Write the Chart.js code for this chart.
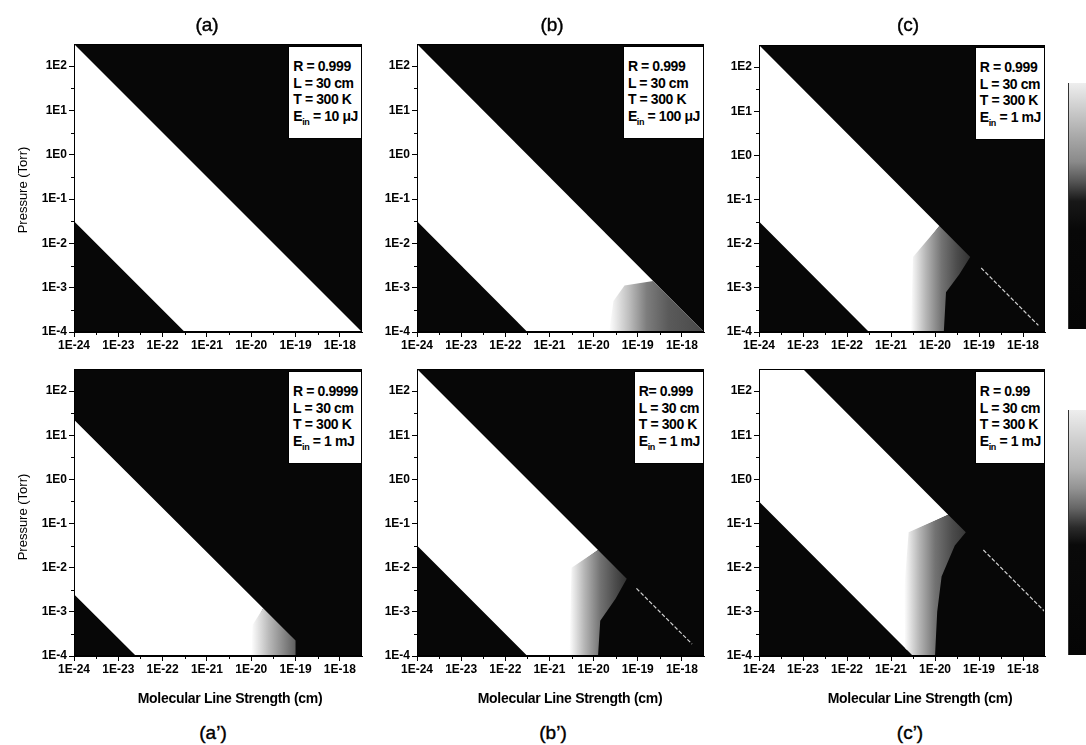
<!DOCTYPE html>
<html>
<head>
<meta charset="utf-8">
<script src="https://cdn.jsdelivr.net/npm/chart.js@4.4.0/dist/chart.umd.min.js"></script>
<style>
  body { margin: 0; background: #fff; }
  #page { position: relative; width: 1086px; height: 745px; overflow: hidden;
          font-family: "Liberation Sans", Arial, sans-serif; color: #000; }
  canvas { position: absolute; }
  .title { position: absolute; font-size: 19px; transform: translate(-50%, -50%); white-space: nowrap;
           -webkit-text-stroke: 0.4px #000; }
  .xlab { position: absolute; font-size: 14px; font-weight: bold; transform: translate(-50%, -50%);
          white-space: nowrap; letter-spacing: -0.3px; }
  .ylab { position: absolute; font-size: 13px; transform: translate(-50%, -50%) rotate(-90deg); white-space: nowrap; }
  .box { position: absolute; background: #fff; border: 1px solid #000; font-size: 14px; font-weight: bold;
         line-height: 16.5px; padding: 11px 3px 14px 4px; white-space: nowrap; letter-spacing: -0.4px; }
  .box sub { font-size: 9px; vertical-align: -4px; line-height: 0; }
  .cbar { position: absolute; width: 30px; border-left: 1px solid #333; }
</style>
</head>
<body>
<div id="page"></div>
<script>
// axis decades (log10) and labels
var xTickExp = [-24, -23, -22, -21, -20, -19, -18];
var xTickLabels = ['1E-24', '1E-23', '1E-22', '1E-21', '1E-20', '1E-19', '1E-18'];
var xMinorExp = [-23.5, -22.5, -21.5, -20.5, -19.5, -18.5];
var yTickExp = [-4, -3, -2, -1, 0, 1, 2];
var yTickLabels = ['1E-4', '1E-3', '1E-2', '1E-1', '1E0', '1E1', '1E2'];
var yMinorExp = [-3.5, -2.5, -1.5, -0.5, 0.5, 1.5];
var xRange = [-24, -17.5];
var yRange = [-4, 2.5];

// all region vertices are log10(line strength), log10(pressure)
// (a)
var aBandS = [-24, -17.5, -21.5, -24];
var aBandP = [2.5, -4, -4, -1.5];
// (b)
var bBandS = [-24, -17.5, -21.5, -24];
var bBandP = [2.5, -4, -4, -1.5];
var bGrayS = [-19.65, -19.55, -19.3, -18.65, -17.5];
var bGrayP = [-4, -3.3, -2.95, -2.85, -4];
var bStopS = [-19.65, -19.2, -18.8, -18.3, -17.6];
var bStopV = [255, 190, 125, 90, 75];
// (c)
var cBandS = [-24, -19.9, -20.45, -20.5, -21.5, -24];
var cBandP = [2.5, -1.6, -2.3, -4, -4, -1.5];
var cGrayS = [-20.55, -20.5, -19.9, -19.2, -19.45, -19.75, -19.8];
var cGrayP = [-4, -2.3, -1.6, -2.3, -2.7, -3.1, -4];
var cStopS = [-20.55, -20.2, -19.85, -19.5, -19.2];
var cStopV = [255, 180, 115, 75, 50];
var cLineS = [-18.95, -17.65];
var cLineP = [-2.55, -3.85];
// (a')
var a2BandS = [-24, -19.73, -19.92, -19.95, -22.6, -24];
var a2BandP = [1.35, -2.92, -3.3, -4, -4, -2.6];
var a2GrayS = [-20.0, -19.97, -19.73, -19.25, -19.0, -19.0];
var a2GrayP = [-4, -3.3, -2.92, -3.4, -3.65, -4];
var a2StopS = [-20.0, -19.6, -19.2, -19.0];
var a2StopV = [255, 185, 125, 95];
// (b')
var b2BandS = [-24, -19.9, -20.45, -20.5, -21.5, -24];
var b2BandP = [2.5, -1.6, -2.0, -4, -4, -1.5];
var b2GrayS = [-20.55, -20.5, -19.9, -19.25, -19.5, -19.85, -19.9];
var b2GrayP = [-4, -2.0, -1.6, -2.25, -2.7, -3.2, -4];
var b2StopS = [-20.55, -20.2, -19.85, -19.5, -19.25];
var b2StopV = [255, 180, 115, 75, 50];
var b2LineS = [-19.03, -17.77];
var b2LineP = [-2.47, -3.73];
// (c')
var c2BandS = [-24, -23, -19.7, -20.55, -20.65, -20.63, -24];
var c2BandP = [2.5, 2.5, -0.8, -1.2, -2.5, -3.87, -0.5];
var c2GrayS = [-20.6, -19.7, -19.3, -19.55, -19.85, -19.95, -20.0, -20.5, -20.68, -20.7];
var c2GrayP = [-1.2, -0.8, -1.2, -1.5, -2.2, -3.0, -4, -4, -3.82, -2.5];
var c2StopS = [-20.7, -20.35, -20.0, -19.6, -19.3];
var c2StopV = [255, 180, 115, 75, 55];
var c2LineS = [-18.9, -17.5];
var c2LineP = [-1.6, -3.0];

var page = document.getElementById('page');
var PADL = 56, PADT = 12, PADR = 8, PADB = 26;
var FONT = 'Liberation Sans, Arial, sans-serif';

function pts(sArr, pArr) {
  return sArr.map(function(s, i) { return {x: Math.pow(10, s), y: Math.pow(10, pArr[i])}; });
}

function grayFill(stopS, stopV) {
  return function(ctx) {
    var chart = ctx.chart;
    if (!chart.chartArea) return 'rgb(160,160,160)';
    var xs = chart.scales.x;
    var x0 = xs.getPixelForValue(Math.pow(10, stopS[0]));
    var x1 = xs.getPixelForValue(Math.pow(10, stopS[stopS.length - 1]));
    var g = chart.ctx.createLinearGradient(x0, 0, x1, 0);
    stopS.forEach(function(s, i) {
      var t = (xs.getPixelForValue(Math.pow(10, s)) - x0) / (x1 - x0);
      var v = stopV[i];
      g.addColorStop(Math.min(1, Math.max(0, t)), 'rgb(' + v + ',' + v + ',' + v + ')');
    });
    return g;
  };
}

var framePlugin = {
  id: 'frame',
  beforeDraw: function(chart) {
    var a = chart.chartArea, c = chart.ctx;
    c.save();
    c.fillStyle = '#070707';
    c.fillRect(a.left, a.top, a.right - a.left, a.bottom - a.top);
    c.restore();
  },
  afterDraw: function(chart) {
    var a = chart.chartArea, c = chart.ctx;
    var xs = chart.scales.x, ys = chart.scales.y;
    c.save();
    c.strokeStyle = '#000';
    c.lineWidth = 1;
    c.strokeRect(a.left + 0.5, a.top + 0.5, a.right - a.left - 1, a.bottom - a.top - 1);
    c.beginPath();
    xMinorExp.forEach(function(e) {
      var px = Math.round(xs.getPixelForValue(Math.pow(10, e))) + 0.5;
      c.moveTo(px, a.bottom); c.lineTo(px, a.bottom + 3);
    });
    yMinorExp.forEach(function(e) {
      var py = Math.round(ys.getPixelForValue(Math.pow(10, e))) + 0.5;
      c.moveTo(a.left, py); c.lineTo(a.left - 3, py);
    });
    c.stroke();
    c.restore();
  }
};

function region(data, color) {
  return {data: data, showLine: true, fill: 'shape', backgroundColor: color,
          borderWidth: 0, borderColor: 'rgba(0,0,0,0)', pointRadius: 0, tension: 0};
}

function makePanel(p) {
  var cv = document.createElement('canvas');
  cv.width = PADL + p.w + PADR;
  cv.height = PADT + p.h + PADB;
  cv.style.left = (p.left - PADL) + 'px';
  cv.style.top = (p.top - PADT) + 'px';
  page.appendChild(cv);

  // Chart.js paints the first dataset on top, so list top-most first
  var ds = [];
  if (p.line) ds.push({data: pts(p.line[0], p.line[1]), showLine: true, fill: false,
                       borderColor: '#d0d0d0', borderWidth: 1.2, borderDash: [4, 2],
                       pointRadius: 0});
  if (p.gray) ds.push(region(pts(p.gray[0], p.gray[1]), grayFill(p.gray[2], p.gray[3])));
  ds.push(region(pts(p.band[0], p.band[1]), '#ffffff'));

  new Chart(cv, {
    type: 'scatter',
    data: {datasets: ds},
    options: {
      responsive: false, animation: false, events: [],
      layout: {padding: {top: PADT, right: PADR, left: 0, bottom: 0}},
      plugins: {legend: {display: false}, tooltip: {enabled: false}},
      scales: {
        x: {
          type: 'logarithmic', position: 'bottom',
          min: Math.pow(10, xRange[0]), max: Math.pow(10, xRange[1]),
          afterBuildTicks: function(s) {
            s.ticks = xTickExp.map(function(e) { return {value: Math.pow(10, e)}; });
          },
          afterFit: function(s) { s.height = PADB; },
          grid: {drawOnChartArea: false, tickLength: 5, color: '#000', tickColor: '#000'},
          border: {color: '#000', width: 1},
          ticks: {
            autoSkip: false, maxRotation: 0, padding: 1, color: '#000',
            font: {family: FONT, size: 12, weight: 'bold'},
            callback: function(v) {
              return xTickLabels[xTickExp.indexOf(Math.round(Math.log10(v)))];
            }
          }
        },
        y: {
          type: 'logarithmic', position: 'left',
          min: Math.pow(10, yRange[0]), max: Math.pow(10, yRange[1]),
          afterBuildTicks: function(s) {
            s.ticks = yTickExp.map(function(e) { return {value: Math.pow(10, e)}; });
          },
          afterFit: function(s) { s.width = PADL; },
          grid: {drawOnChartArea: false, tickLength: 5, color: '#000', tickColor: '#000'},
          border: {color: '#000', width: 1},
          ticks: {
            autoSkip: false, padding: 2, color: '#000',
            font: {family: FONT, size: 12, weight: 'bold'},
            callback: function(v) {
              return yTickLabels[yTickExp.indexOf(Math.round(Math.log10(v)))];
            }
          }
        }
      }
    },
    plugins: [framePlugin]
  });

  // parameter box
  var box = document.createElement('div');
  box.className = 'box';
  box.style.top = (p.top + 2) + 'px';
  box.style.right = (1086 - (p.left + p.w)) + 'px';
  box.innerHTML = p.info.join('<br>');
  page.appendChild(box);
}

function addText(cls, txt, x, y) {
  var d = document.createElement('div');
  d.className = cls;
  d.style.left = x + 'px';
  d.style.top = y + 'px';
  d.textContent = txt;
  page.appendChild(d);
}

var panels = [
  {left: 74, top: 44, w: 288, h: 288, band: [aBandS, aBandP],
   info: ['R = 0.999', 'L = 30 cm', 'T = 300 K', 'E<sub>in</sub> = 10 &mu;J']},
  {left: 417, top: 44, w: 287, h: 288, band: [bBandS, bBandP],
   gray: [bGrayS, bGrayP, bStopS, bStopV],
   info: ['R = 0.999', 'L = 30 cm', 'T = 300 K', 'E<sub>in</sub> = 100 &mu;J']},
  {left: 759, top: 45, w: 286, h: 287, band: [cBandS, cBandP],
   gray: [cGrayS, cGrayP, cStopS, cStopV], line: [cLineS, cLineP],
   info: ['R = 0.999', 'L = 30 cm', 'T = 300 K', 'E<sub>in</sub> = 1 mJ']},
  {left: 74, top: 369, w: 288, h: 287, band: [a2BandS, a2BandP],
   gray: [a2GrayS, a2GrayP, a2StopS, a2StopV],
   info: ['R = 0.9999', 'L = 30 cm', 'T = 300 K', 'E<sub>in</sub> = 1 mJ']},
  {left: 417, top: 369, w: 287, h: 287, band: [b2BandS, b2BandP],
   gray: [b2GrayS, b2GrayP, b2StopS, b2StopV], line: [b2LineS, b2LineP],
   info: ['R= 0.999', 'L = 30 cm', 'T = 300 K', 'E<sub>in</sub> = 1 mJ']},
  {left: 759, top: 369, w: 286, h: 287, band: [c2BandS, c2BandP],
   gray: [c2GrayS, c2GrayP, c2StopS, c2StopV], line: [c2LineS, c2LineP],
   info: ['R = 0.99', 'L = 30 cm', 'T = 300 K', 'E<sub>in</sub> = 1 mJ']}
];
panels.forEach(makePanel);

addText('title', '(a)', 207, 25);
addText('title', '(b)', 552, 25);
addText('title', '(c)', 908, 25);
addText('title', '(a\u2019)', 213, 733);
addText('title', '(b\u2019)', 553, 733);
addText('title', '(c\u2019)', 910, 733);
addText('xlab', 'Molecular Line Strength (cm)', 230, 698);
addText('xlab', 'Molecular Line Strength (cm)', 570, 698);
addText('xlab', 'Molecular Line Strength (cm)', 920, 698);
addText('ylab', 'Pressure (Torr)', 22, 190);
addText('ylab', 'Pressure (Torr)', 22, 517);

// grey scale bars at the right edge
var bar1 = document.createElement('div');
bar1.className = 'cbar';
bar1.style.left = '1068px'; bar1.style.top = '83px'; bar1.style.height = '246px';
bar1.style.background = 'linear-gradient(to bottom, #eee 0%, #c8c8c8 12%, #a8a8a8 22%, #8a8a8a 32%, #555 40%, #181818 48%, #080808 60%, #050505 100%)';
page.appendChild(bar1);
var bar2 = document.createElement('div');
bar2.className = 'cbar';
bar2.style.left = '1068px'; bar2.style.top = '410px'; bar2.style.height = '245px';
bar2.style.background = 'linear-gradient(to bottom, #eee 0%, #d0d0d0 12%, #b4b4b4 24%, #939393 32%, #666 40%, #2a2a2a 48%, #0a0a0a 55%, #050505 100%)';
page.appendChild(bar2);
</script>
</body>
</html>
